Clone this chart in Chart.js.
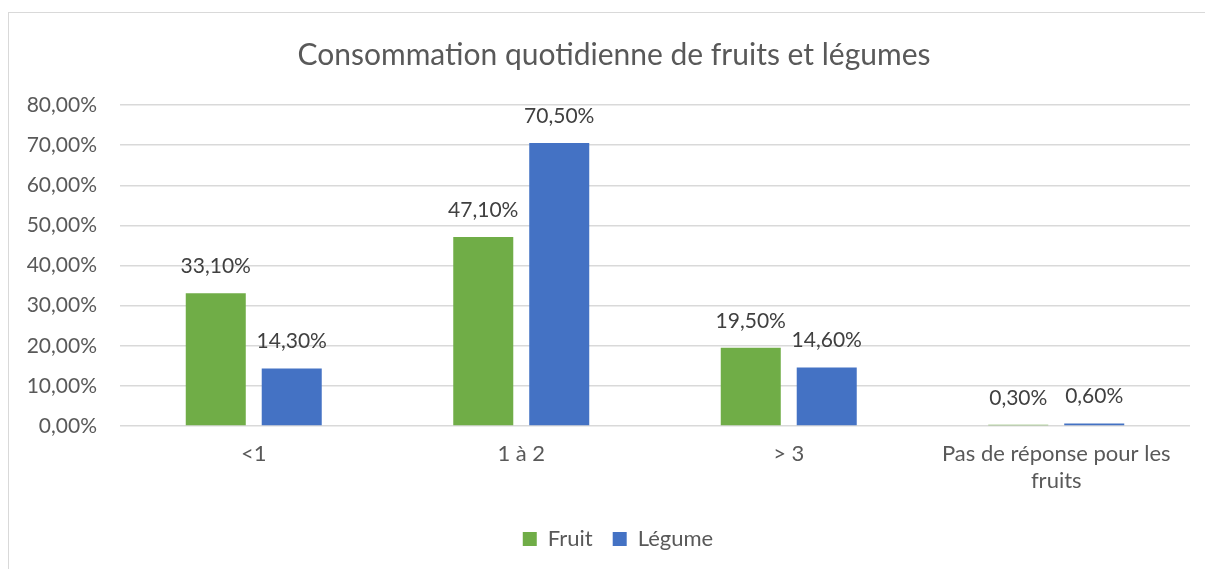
<!DOCTYPE html>
<html lang="fr">
<head>
<meta charset="utf-8">
<title>Consommation quotidienne de fruits et légumes</title>
<script src="https://cdn.jsdelivr.net/npm/chart.js@4/dist/chart.umd.min.js"></script>
<style>
    html, body { margin: 0; padding: 0; background: #fff; overflow: hidden; }
    #frame {
        position: absolute; left: 8px; top: 12px;
        width: 1220px; height: 580px;
        border: 1px solid #d9d9d9; box-sizing: border-box;
    }
    #wrap { position: absolute; left: 0; top: 0; width: 1205px; height: 569px; }
</style>
</head>
<body>
<div id="frame"></div>
<div id="wrap"><canvas id="chart"></canvas></div>
<script>
// data
const categories = ['<1', '1 à 2', '> 3', ['Pas de réponse pour les', 'fruits']];
const fruitValues = [33.1, 47.1, 19.5, 0.3];
const legumeValues = [14.3, 70.5, 14.6, 0.6];
const yTicks = [0, 10, 20, 30, 40, 50, 60, 70, 80];

const FONT = 'Lato, "Open Sans", sans-serif';

function fmtPct(v) {
    return v.toFixed(2).replace('.', ',') + '%';
}

// labels above the bars, like the Excel data labels
const barLabels = {
    id: 'barLabels',
    afterDatasetsDraw(chart) {
        const ctx = chart.ctx;
        ctx.save();
        ctx.font = '21px ' + FONT;
        ctx.fillStyle = '#404040';
        ctx.textAlign = 'center';
        ctx.textBaseline = 'middle';
        chart.data.datasets.forEach((ds, i) => {
            const meta = chart.getDatasetMeta(i);
            meta.data.forEach((bar, j) => {
                ctx.fillText(fmtPct(ds.data[j]), bar.x, bar.y - 27);
            });
        });
        ctx.restore();
    }
};

// the Excel frame runs past the right edge of the picture,
// so title and legend sit a bit right of the canvas centre
const shiftBoxes = {
    id: 'shiftBoxes',
    afterLayout(chart) {
        chart.titleBlock.left += 19;
        chart.titleBlock.right += 19;
        chart.legend.left += 23;
        chart.legend.right += 23;
    }
};

const ctx = document.getElementById('chart').getContext('2d');
new Chart(ctx, {
    type: 'bar',
    data: {
        labels: categories,
        datasets: [
            { label: 'Fruit', data: fruitValues, backgroundColor: '#70ad47' },
            { label: 'Légume', data: legumeValues, backgroundColor: '#4472c4' }
        ]
    },
    options: {
        responsive: true,
        maintainAspectRatio: false,
        animation: false,
        categoryPercentage: 0.568,
        barPercentage: 0.79,
        layout: { padding: { left: 0, right: 15, top: 0, bottom: 9 } },
        scales: {
            x: {
                grid: { display: false, drawTicks: false },
                border: { display: false },
                ticks: {
                    color: '#595959',
                    font: { family: FONT, size: 22 },
                    padding: 15,
                    maxRotation: 0,
                    autoSkip: false
                },
                afterFit(scale) { scale.height = 82; }
            },
            y: {
                min: 0,
                max: 80,
                afterBuildTicks(scale) {
                    scale.ticks = yTicks.map(v => ({ value: v }));
                },
                grid: { color: '#d9d9d9', lineWidth: 1.5, drawTicks: false },
                border: { display: false },
                ticks: {
                    color: '#595959',
                    font: { family: FONT, size: 21 },
                    padding: 23,
                    callback: v => fmtPct(v)
                },
                afterFit(scale) { scale.width = 120; }
            }
        },
        plugins: {
            title: {
                display: true,
                text: 'Consommation quotidienne de fruits et légumes',
                color: '#595959',
                font: { family: FONT, size: 30, weight: 'normal' },
                padding: { top: 37, bottom: 32 }
            },
            legend: {
                position: 'bottom',
                labels: {
                    color: '#595959',
                    font: { family: FONT, size: 22 },
                    boxWidth: 14,
                    boxHeight: 14,
                    padding: 20
                }
            },
            tooltip: { enabled: false }
        }
    },
    plugins: [barLabels, shiftBoxes]
});
</script>
</body>
</html>
